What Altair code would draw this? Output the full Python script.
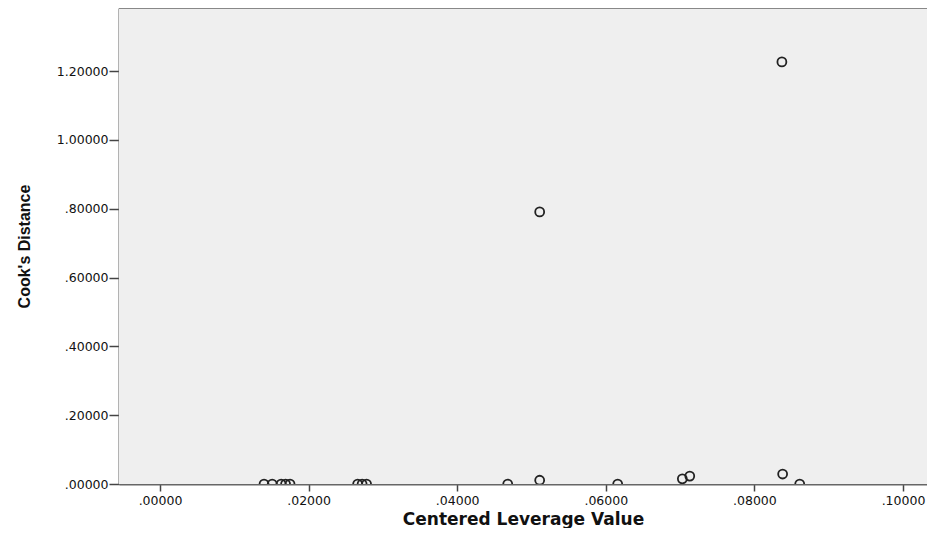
import altair as alt
import pandas as pd

# Centered leverage values and Cook's distances
leverage = [0.0140, 0.0151, 0.0163, 0.0169, 0.0175, 0.0266, 0.0272, 0.0278,
            0.0468, 0.0511, 0.0511, 0.0616, 0.0703, 0.0713, 0.0838, 0.0861, 0.0837]
cooks = [0.0, 0.0, 0.0, 0.0, 0.0, 0.0, 0.0, 0.0,
         0.0, 0.011, 0.791, 0.0, 0.015, 0.023, 0.029, 0.0, 1.227]

x_ticks = [0.0, 0.02, 0.04, 0.06, 0.08, 0.10]
y_ticks = [0.0, 0.2, 0.4, 0.6, 0.8, 1.0, 1.2]

df = pd.DataFrame({"lev": leverage, "cook": cooks})

W, H = 808, 476
label_expr = "datum.value < 1 ? substring(format(datum.value, '.5f'), 1) : format(datum.value, '.5f')"

background = alt.Chart(df).mark_rect(color="#efefef").encode(
    x=alt.value(0), x2=alt.value(W), y=alt.value(0), y2=alt.value(H)
)

points = alt.Chart(df).mark_point(
    shape="circle", filled=False, size=80, strokeWidth=1.8, color="#222222",
    opacity=1, clip=True
).encode(
    x=alt.X("lev:Q", title="Centered Leverage Value",
            scale=alt.Scale(domain=[-0.00552, 0.10323], nice=False, zero=False),
            axis=alt.Axis(values=x_ticks, labelExpr=label_expr, grid=False,
                          tickSize=7, tickWidth=1.5, tickColor="#444444",
                          domainColor="#666666", domainWidth=2,
                          labelFont="DejaVu Sans", labelFontSize=12.5,
                          labelColor="#111111", labelPadding=3,
                          titleFont="DejaVu Sans", titleFontSize=17,
                          titleFontWeight="bold", titleColor="#111111",
                          titlePadding=5)),
    y=alt.Y("cook:Q", title="Cook's Distance",
            scale=alt.Scale(domain=[0, 1.3837], nice=False, zero=False),
            axis=alt.Axis(values=y_ticks, labelExpr=label_expr, grid=False,
                          tickSize=10, tickWidth=1.5, tickColor="#444444",
                          domainColor="#666666", domainWidth=2,
                          labelFont="DejaVu Sans", labelFontSize=12.5,
                          labelColor="#111111", labelPadding=1,
                          titleFont="Liberation Sans", titleFontSize=16,
                          titleFontWeight="bold", titleColor="#111111",
                          titlePadding=24)),
)

top_border = alt.Chart(df).mark_rule(color="#888888", strokeWidth=1.5).encode(
    x=alt.value(0), x2=alt.value(W), y=alt.value(0)
)

chart = alt.layer(background, points, top_border).properties(
    width=W, height=H,
    autosize=alt.AutoSizeParams(type="none"),
    padding={"left": 111, "top": 0, "right": 0, "bottom": 44},
).configure_view(stroke=None).configure(background="white")

chart.save("out.html", embed_options={"renderer": "svg", "actions": False})
